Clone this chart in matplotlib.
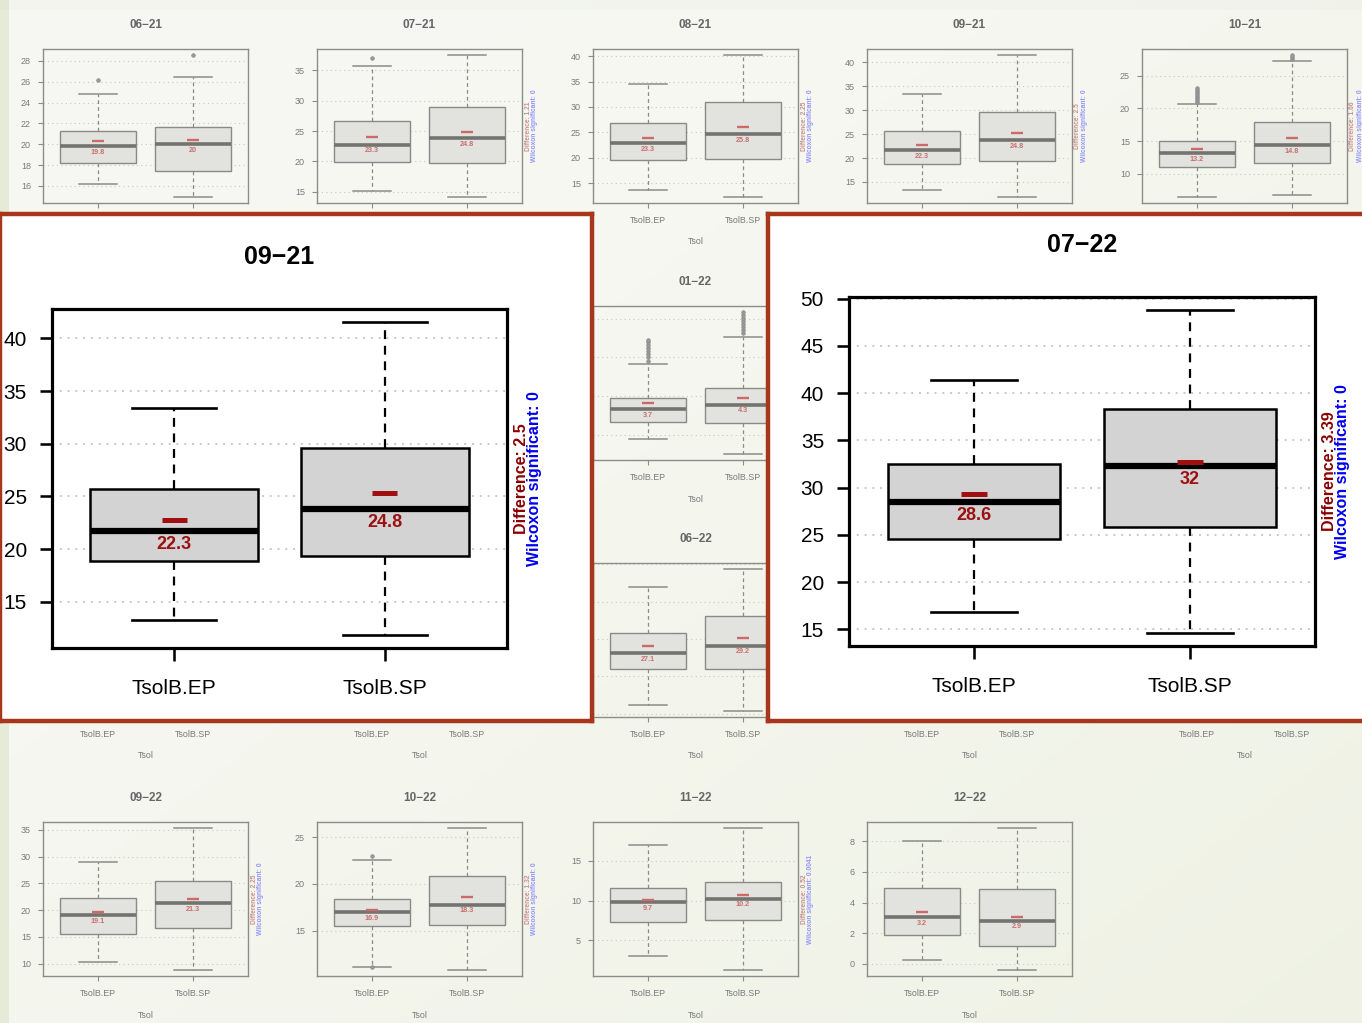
import numpy as np
import matplotlib.pyplot as plt
from matplotlib.ticker import MultipleLocator

# ── Config ────────────────────────────────────────────────────────────────────
W, H, DPI = 1362, 1023, 100
FONT = "Liberation Sans"
plt.rcParams["font.family"] = [FONT, "DejaVu Sans"]

# ── Data ──────────────────────────────────────────────────────────────────────
PANELS = ["06-21", "07-21", "08-21", "09-21", "10-21", "01-22", "06-22",
          "09-22", "10-22", "11-22", "12-22", "07-22"]
GROUPS = ["TsolB.EP", "TsolB.SP"]

EP_LOW   = [16.2, 15.2, 13.7, 13.3, 6.4, -0.5, 21.2, 10.25, 11.2, 3.0, 0.24, 16.8]
EP_Q1    = [18.2, 19.9, 19.5, 18.85, 11.1, 1.7, 26.0, 15.5, 15.5, 7.3, 1.86, 24.55]
EP_MED   = [19.8, 22.8, 22.9, 21.7, 13.1, 3.3, 28.1, 19.0, 17.0, 9.8, 3.04, 28.5]
EP_Q3    = [21.3, 26.6, 26.8, 25.7, 14.95, 4.8, 30.8, 22.3, 18.36, 11.6, 4.96, 32.5]
EP_HIGH  = [24.8, 35.8, 34.5, 33.35, 20.7, 9.2, 36.9, 29.06, 22.6, 17.0, 8.0, 41.4]
EP_MEAN  = [20.3, 24.0, 23.8, 22.8, 13.8, 4.1, 29.1, 19.6, 17.25, 10.1, 3.37, 29.3]
EP_LABEL = ["19.8", "23.3", "23.3", "22.3", "13.2", "3.7", "27.1", "19.1", "16.9", "9.7", "3.2", "28.6"]
EP_OUT   = [[26.2], [37.1], [], [], [21.0, 21.3, 21.6, 21.9, 22.2, 22.5, 22.8, 23.1],
            [9.6, 10.0, 10.4, 10.8, 11.2, 11.6, 12.0, 12.3], [], [], [23.0, 11.1], [], [], []]

SP_LOW   = [14.9, 14.1, 12.2, 11.8, 6.8, -2.5, 20.3, 8.75, 10.8, 1.2, -0.44, 14.6]
SP_Q1    = [17.4, 19.7, 19.7, 19.3, 11.6, 1.5, 26.0, 16.6, 15.6, 7.6, 1.18, 25.8]
SP_MED   = [20.0, 23.8, 24.6, 23.8, 14.4, 3.9, 29.1, 21.3, 17.8, 10.25, 2.82, 32.3]
SP_Q3    = [21.7, 29.0, 31.0, 29.6, 17.9, 6.1, 33.0, 25.5, 20.8, 12.3, 4.87, 38.3]
SP_HIGH  = [26.5, 37.6, 40.3, 41.6, 27.2, 12.7, 39.4, 35.4, 26.0, 19.2, 8.9, 48.8]
SP_MEAN  = [20.4, 24.9, 26.1, 25.3, 15.5, 4.7, 30.1, 22.0, 18.6, 10.7, 3.08, 32.7]
SP_LABEL = ["20", "24.8", "25.8", "24.8", "14.8", "4.3", "29.2", "21.3", "18.3", "10.2", "2.9", "32"]
SP_OUT   = [[28.6], [], [], [], [27.6, 27.9, 28.2],
            [13.1, 13.5, 13.9, 14.3, 14.7, 15.1, 15.5, 15.9], [], [], [], [], [], []]

DIFF     = ["", "1.21", "2.25", "2.5", "1.66", "", "", "2.25", "1.32", "0.52", "", "3.39"]
WILCOX   = ["", "0", "0", "0", "0", "", "", "0", "0", "0.0041", "", "0"]
TICK_STEP = [2, 5, 5, 5, 5, 5, 5, 5, 5, 5, 2, 5]

# background grid position (row, col) of each small panel
GRID_POS = {"06-21": (0, 0), "07-21": (0, 1), "08-21": (0, 2), "09-21": (0, 3),
            "10-21": (0, 4), "01-22": (1, 2), "06-22": (2, 2), "09-22": (3, 0),
            "10-22": (3, 1), "11-22": (3, 2), "12-22": (3, 3)}
STUB_POS = [(2, 0), (2, 1), (2, 3), (2, 4)]   # panels hidden, only x labels show
COL_X = [43, 317, 593, 867, 1142]
ROW_Y = [49, 306, 563, 822]

# ── Styles ────────────────────────────────────────────────────────────────────
SMALL = dict(face="#e2e2de", edge="#8a8a86", med="#737370", spine="#8c8c88",
             tick="#7a7a7a", title="#666666", mean="#cc6a6a", lab="#c87070",
             diff="#c89090", wil="#9494ff", box_lw=1.0, med_lw=2.6, wh_lw=0.9,
             spine_lw=1.0, mean_lw=1.7, tick_fs=6.5, xt_fs=6.4, lab_fs=5.2,
             title_fs=8.5, side_fs=4.8, flier_ms=2.6, dash=(0, (3, 2.5)),
             tlen=3.6, ypad=5, xpad=5.5, title_off=24, xlab_off=39,
             lab_off=2.0, diff_off=6, wil_off=13, grid_lw=0.8)
BIG = dict(face="#d3d3d3", edge="black", med="black", spine="black",
           tick="black", title="black", mean="#a01010", lab="#9b1010",
           diff="#8b0000", wil="#0000ee", box_lw=1.8, med_lw=4.5, wh_lw=1.6,
           spine_lw=2.3, mean_lw=3.6, tick_fs=15, xt_fs=15, lab_fs=13,
           title_fs=18, side_fs=11.5, flier_ms=5, dash=(0, (4, 3)),
           tlen=9, ypad=9, xpad=13, title_off=52, xlab_off=None,
           lab_off=3.5, diff_off=14, wil_off=27, grid_lw=1.4)


def px_rect(x0, y0, x1, y1):
    return [x0 / W, 1 - y1 / H, (x1 - x0) / W, (y1 - y0) / H]


def draw_panel(ax, i, st):
    pos = np.array([1, 2])
    stats = [dict(whislo=EP_LOW[i], q1=EP_Q1[i], med=EP_MED[i], q3=EP_Q3[i],
                  whishi=EP_HIGH[i], fliers=EP_OUT[i]),
             dict(whislo=SP_LOW[i], q1=SP_Q1[i], med=SP_MED[i], q3=SP_Q3[i],
                  whishi=SP_HIGH[i], fliers=SP_OUT[i])]
    ax.bxp(stats, positions=pos, widths=0.8, capwidths=0.4, patch_artist=True,
           manage_ticks=False,
           boxprops=dict(facecolor=st["face"], edgecolor=st["edge"], linewidth=st["box_lw"]),
           medianprops=dict(color=st["med"], linewidth=st["med_lw"], solid_capstyle="butt"),
           whiskerprops=dict(color=st["edge"], linewidth=st["wh_lw"], linestyle=st["dash"]),
           capprops=dict(color=st["edge"], linewidth=st["wh_lw"] * 1.2),
           flierprops=dict(marker="o", markersize=st["flier_ms"], markerfacecolor="#9a9a9a",
                           markeredgecolor="#8a8a8a", markeredgewidth=0.5))
    ax.hlines([EP_MEAN[i], SP_MEAN[i]], pos - 0.06, pos + 0.06,
              colors=st["mean"], lw=st["mean_lw"], zorder=4)
    for p, m, lab in zip(pos, [EP_MED[i], SP_MED[i]], [EP_LABEL[i], SP_LABEL[i]]):
        ax.annotate(lab, (p, m), xytext=(0, -st["lab_off"]), textcoords="offset points",
                    ha="center", va="top", fontsize=st["lab_fs"], fontweight="bold",
                    color=st["lab"], zorder=5)

    # R-style axis ranges (4% padding)
    lo = min([EP_LOW[i], SP_LOW[i]] + EP_OUT[i] + SP_OUT[i])
    hi = max([EP_HIGH[i], SP_HIGH[i]] + EP_OUT[i] + SP_OUT[i])
    pad = (hi - lo) * 0.04
    ax.set_ylim(lo - pad, hi + pad)
    ax.set_xlim(0.42, 2.58)
    ax.yaxis.set_major_locator(MultipleLocator(TICK_STEP[i]))
    ax.yaxis.grid(True, linestyle=(0, (1, 3)), color="#c8c8c8", lw=st["grid_lw"])
    ax.set_axisbelow(True)

    ax.set_xticks(pos)
    ax.set_xticklabels(GROUPS)
    ax.tick_params(axis="y", length=st["tlen"], width=st["spine_lw"] * 0.8,
                   color=st["spine"], labelcolor=st["tick"], labelsize=st["tick_fs"],
                   pad=st["ypad"])
    ax.tick_params(axis="x", length=st["tlen"], width=st["spine_lw"] * 0.8,
                   color=st["spine"], labelcolor=st["tick"], labelsize=st["xt_fs"],
                   pad=st["xpad"])
    for sp in ax.spines.values():
        sp.set_color(st["spine"])
        sp.set_linewidth(st["spine_lw"])
    ax.set_facecolor("none")

    ax.annotate(PANELS[i].replace("-", "\u2212"), (0.5, 1), xycoords="axes fraction",
                xytext=(0, st["title_off"] * 0.72), textcoords="offset points",
                ha="center", va="center", fontsize=st["title_fs"], fontweight="bold",
                color=st["title"])
    if st["xlab_off"]:
        ax.annotate("Tsol", (0.5, 0), xycoords="axes fraction",
                    xytext=(0, -st["xlab_off"] * 0.72), textcoords="offset points",
                    ha="center", va="center", fontsize=st["xt_fs"], color=st["tick"])
    if DIFF[i]:
        ax.annotate(f"Difference: {DIFF[i]}", (1, 0.5), xycoords="axes fraction",
                    xytext=(st["diff_off"] * 0.72, 0), textcoords="offset points",
                    rotation=90, ha="center", va="center", fontsize=st["side_fs"],
                    fontweight="bold", color=st["diff"])
        ax.annotate(f"Wilcoxon significant: {WILCOX[i]}", (1, 0.5), xycoords="axes fraction",
                    xytext=(st["wil_off"] * 0.72, 0), textcoords="offset points",
                    rotation=90, ha="center", va="center", fontsize=st["side_fs"],
                    fontweight="bold", color=st["wil"])


def main():
    fig = plt.figure(figsize=(W / DPI, H / DPI), dpi=DPI)

    # slide background
    bg = fig.add_axes([0, 0, 1, 1], zorder=-10)
    yy, xx = np.mgrid[0:1:300j, 0:1:300j]
    c0 = np.array([0.968, 0.972, 0.950])
    c1 = np.array([0.925, 0.940, 0.875])
    t = np.clip((xx + yy) / 2 - 0.15, 0, 1) ** 1.5
    img = c0 * (1 - t[..., None]) + c1 * t[..., None]
    img[:, :2] = [0.900, 0.925, 0.840]
    img[:3, :] = img[:3, :] * 0.985
    bg.imshow(img, aspect="auto", extent=[0, 1, 0, 1])
    bg.axis("off")

    # background grid of small panels
    for name, (r, c) in GRID_POS.items():
        i = PANELS.index(name)
        ax = fig.add_axes(px_rect(COL_X[c], ROW_Y[r], COL_X[c] + 205, ROW_Y[r] + 154))
        draw_panel(ax, i, SMALL)

    for r, c in STUB_POS:
        ax = fig.add_axes(px_rect(COL_X[c], ROW_Y[r], COL_X[c] + 205, ROW_Y[r] + 154))
        ax.set_xlim(0.42, 2.58)
        ax.set_xticks([1, 2])
        ax.set_xticklabels(GROUPS)
        ax.set_yticks([])
        ax.tick_params(axis="x", length=SMALL["tlen"], color=SMALL["spine"],
                       labelcolor=SMALL["tick"], labelsize=SMALL["xt_fs"], pad=SMALL["xpad"])
        ax.set_facecolor("none")
        for sp in ax.spines.values():
            sp.set_visible(False)
        ax.annotate("Tsol", (0.5, 0), xycoords="axes fraction",
                    xytext=(0, -SMALL["xlab_off"] * 0.72), textcoords="offset points",
                    ha="center", va="center", fontsize=SMALL["xt_fs"], color=SMALL["tick"])

    # two highlighted, enlarged panels
    for name, frame, box in [("09-21", (0, 214, 592, 721), (52, 309, 507, 648)),
                             ("07-22", (768, 214, 1366, 721), (849, 297, 1315, 646))]:
        fr = fig.add_axes(px_rect(*frame), zorder=5)
        fr.set_facecolor("white")
        fr.set_xticks([])
        fr.set_yticks([])
        for sp in fr.spines.values():
            sp.set_color("#a8361c")
            sp.set_linewidth(3.2)
        ax = fig.add_axes(px_rect(*box), zorder=6)
        draw_panel(ax, PANELS.index(name), BIG)

    fig.savefig("out.png", dpi=DPI)


if __name__ == "__main__":
    main()
